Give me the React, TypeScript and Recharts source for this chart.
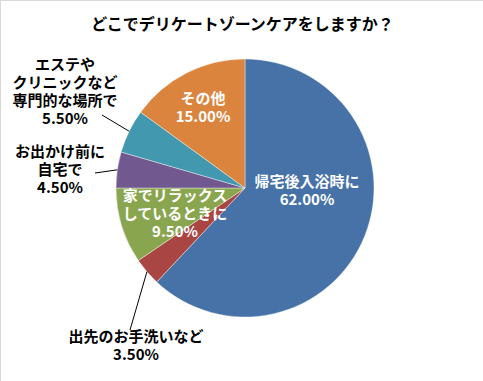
import { Pie, PieChart, Cell } from "recharts";

const categories = [
  "帰宅後入浴時に",
  "出先のお手洗いなど",
  "家でリラックス\nしているときに",
  "お出かけ前に\n自宅で",
  "エステや\nクリニックなど\n専門的な場所で",
  "その他",
];
const shares = [62, 3.5, 9.5, 4.5, 5.5, 15];
const colors = ["#4672A8", "#A94543", "#89A54E", "#71588F", "#4298AF", "#DB843D"];

// label placement relative to the pie centre; leader is where an outside label's line ends
const labelLayout = [
  { dx: 62, dy: -6, inside: true },
  { dx: -109, dy: 149, inside: false, leader: [-115, 142] },
  { dx: -70, dy: 8, inside: true },
  { dx: -185, dy: -36, inside: false, leader: [-150, -15] },
  { dx: -180, dy: -123, inside: false, leader: [-143, -73] },
  { dx: -42, dy: -89, inside: true },
];

const data = categories.map((name, i) => ({ name, value: shares[i] }));
const RADIAN = Math.PI / 180;
const FONT = "'Noto Sans CJK JP', 'Noto Sans', sans-serif";

function renderLabel(props: any) {
  const { cx, cy, midAngle, outerRadius, index } = props;
  const layout = labelLayout[index];
  const lines = [...categories[index].split("\n"), `${shares[index].toFixed(2)}%`];
  const lh = 18;
  const x = cx + layout.dx;
  const y = cy + layout.dy;
  const fill = layout.inside ? "#ffffff" : "#000000";
  let leader = null;
  if (layout.leader) {
    const sx = cx + outerRadius * Math.cos(-midAngle * RADIAN);
    const sy = cy + outerRadius * Math.sin(-midAngle * RADIAN);
    leader = (
      <line x1={sx} y1={sy} x2={cx + layout.leader[0]} y2={cy + layout.leader[1]} stroke="#000" strokeWidth={1} />
    );
  }
  return (
    <g key={`label-${index}`}>
      {leader}
      {lines.map((line, i) => (
        <text
          key={i}
          x={x}
          y={y + i * lh}
          dy="0.35em"
          textAnchor="middle"
          fill={fill}
          fontSize={15}
          fontWeight="bold"
          fontFamily={FONT}
        >
          {line}
        </text>
      ))}
    </g>
  );
}

export default function App() {
  return (
    <div
      style={{
        position: "absolute",
        left: 0,
        top: 0,
        width: 483,
        height: 381,
        background: "#fff",
        borderTop: "1px solid #d9d9d9",
        borderLeft: "1px solid #d9d9d9",
        boxSizing: "border-box",
      }}
    >
      <div
        style={{
          position: "absolute",
          top: 10,
          left: 0,
          width: 483,
          textAlign: "center",
          fontFamily: FONT,
          fontWeight: "bold",
          fontSize: 16,
          color: "#000",
        }}
      >
        どこでデリケートゾーンケアをしますか？
      </div>
      <div style={{ position: "absolute", left: -1, top: -1 }}>
        <PieChart width={483} height={381}>
          <Pie
            data={data}
            dataKey="value"
            nameKey="name"
            cx={240}
            cy={183}
            outerRadius={129}
            startAngle={90}
            endAngle={-270}
            stroke="#ffffff"
            strokeWidth={0.4}
            label={renderLabel}
            labelLine={false}
            isAnimationActive={false}
          >
            {data.map((entry, i) => (
              <Cell key={entry.name} fill={colors[i]} />
            ))}
          </Pie>
        </PieChart>
      </div>
    </div>
  );
}
